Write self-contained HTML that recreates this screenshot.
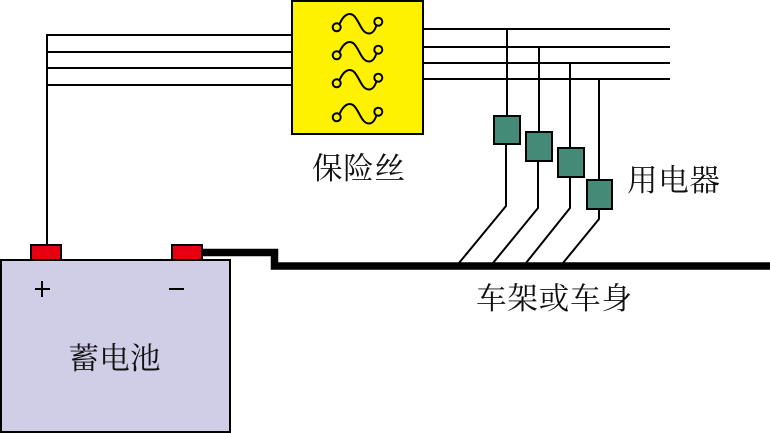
<!DOCTYPE html>
<html>
<head>
<meta charset="utf-8">
<style>
html,body{margin:0;padding:0;background:#fff;width:770px;height:433px;overflow:hidden}
svg{display:block}
text{font-family:"Liberation Serif","Noto Serif CJK SC",serif;fill:#111}
</style>
</head>
<body>
<svg width="770" height="433" viewBox="0 0 770 433" xmlns="http://www.w3.org/2000/svg">
  <!-- wires -->
  <g stroke="#000" stroke-width="2" fill="none">
    <path d="M47 245V35H292"/>
    <path d="M47 52H292M47 68H292M47 85H292"/>
    <path d="M423 29H670M423 47H670M423 63H670M423 79H670"/>
    <path d="M507 29V116M539 47V132M570 63V148M599 79V180"/>
    <path d="M506 144V206L459 263M538 161V208L493 263M570 177V208L526 263M599 209V219L563 263"/>
  </g>
  <!-- fuse box -->
  <rect x="292" y="1" width="131" height="133" fill="#fff200" stroke="#000" stroke-width="2"/>
  <g fill="none" stroke="#000" stroke-width="2">
    <g>
      <circle cx="336.7" cy="27.3" r="4"/>
      <circle cx="378.3" cy="21.7" r="4"/>
      <path d="M339.500 24C343 16 348 12 353 15C359 19 361 33.500 369 33.500C373 33.500 375 30 376.500 25"/>
    </g>
    <g transform="translate(0,28)">
      <circle cx="336.7" cy="27.3" r="4"/>
      <circle cx="378.3" cy="21.7" r="4"/>
      <path d="M339.500 24C343 16 348 12 353 15C359 19 361 33.500 369 33.500C373 33.500 375 30 376.500 25"/>
    </g>
    <g transform="translate(0,56)">
      <circle cx="336.7" cy="27.3" r="4"/>
      <circle cx="378.3" cy="21.7" r="4"/>
      <path d="M339.500 24C343 16 348 12 353 15C359 19 361 33.500 369 33.500C373 33.500 375 30 376.500 25"/>
    </g>
    <g transform="translate(0,90)">
      <circle cx="336.7" cy="27.3" r="4"/>
      <circle cx="378.3" cy="21.7" r="4"/>
      <path d="M339.500 24C343 16 348 12 353 15C359 19 361 33.500 369 33.500C373 33.500 375 30 376.500 25"/>
    </g>
  </g>
  <!-- loads -->
  <g fill="#458a76" stroke="#000" stroke-width="2">
    <rect x="494" y="116" width="26" height="28"/>
    <rect x="526" y="132" width="26" height="29"/>
    <rect x="558" y="148" width="26" height="29"/>
    <rect x="587" y="180" width="25" height="29"/>
  </g>
  <!-- ground -->
  <path d="M202 252.500H274.500V266H770" fill="none" stroke="#000" stroke-width="7.500"/>
  <!-- battery -->
  <rect x="1" y="260" width="229" height="172" fill="#d0cee6" stroke="#000" stroke-width="2"/>
  <rect x="31" y="245" width="30" height="15" fill="#e60012" stroke="#000" stroke-width="2"/>
  <rect x="172" y="245" width="30" height="15" fill="#e60012" stroke="#000" stroke-width="2"/>
  <path d="M35 289H50M42 281V297M169 289H184" stroke="#000" stroke-width="2" fill="none"/>
  <!-- labels -->
  <text x="312" y="179" font-size="30.500" textLength="93" lengthAdjust="spacing">保险丝</text>
  <text x="627" y="191" font-size="30.500" textLength="93" lengthAdjust="spacing">用电器</text>
  <text x="476" y="309" font-size="30.500" textLength="156" lengthAdjust="spacing">车架或车身</text>
  <text x="68.500" y="369" font-size="30.500" textLength="92" lengthAdjust="spacing">蓄电池</text>
</svg>
</body>
</html>
